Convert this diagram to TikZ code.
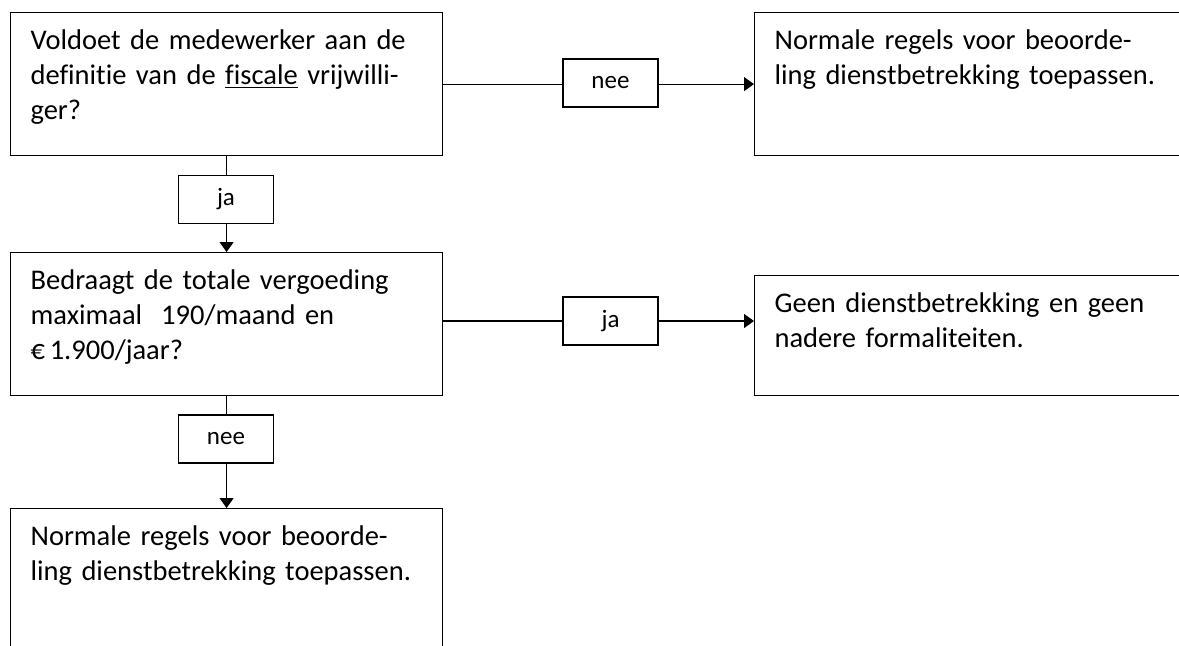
\documentclass[tikz,border=0pt]{standalone}
\usepackage{fontspec}
\setmainfont{Carlito}[Ligatures=NoCommon]
\usetikzlibrary{arrows.meta}

\tikzset{
  stepbox/.style={draw,line width=0.6pt,anchor=north west,align=left,
    text width=196pt,inner xsep=10pt,inner ysep=0pt,
    text height=18.5pt,text depth=53pt,
    font=\fontsize{14.25pt}{17.5pt}\selectfont},
  answer/.style={draw,line width=0.6pt,minimum width=47.5pt,
    minimum height=24pt,inner sep=0pt,
    font=\fontsize{12.5pt}{14pt}\selectfont},
  flow/.style={line width=0.6pt},
  arrowflow/.style={flow,-{Triangle[length=5pt,width=7pt]}}
}

\begin{document}
\begin{tikzpicture}[x=0.5pt,y=-0.5pt]

  \clip (0,0) rectangle (1179,645);

  % questions and outcomes
  \node[stepbox] (q1) at (10,12)
    {Voldoet de medewerker aan de\\definitie van de \underline{fiscale} vrijwilli-\\ger?};
  \node[stepbox] (r1) at (754,12)
    {Normale regels voor beoorde-\\ling dienstbetrekking toepassen.};
  \node[stepbox] (q2) at (10,252)
    {Bedraagt de totale vergoeding\\maximaal\ \ 190/maand en\\€\,1.900/jaar?};
  \node[stepbox,text depth=41.5pt] (r2) at (754,275)
    {Geen dienstbetrekking en geen\\nadere formaliteiten.};
  \node[stepbox] (q3) at (10,508)
    {Normale regels voor beoorde-\\ling dienstbetrekking toepassen.};

  % answers
  \node[answer] (nee1) at (610.5,83) {nee};
  \node[answer] (ja1) at (226,199.5) {ja};
  \node[answer] (ja2) at (610.5,321) {ja};
  \node[answer] (nee2) at (226,439) {nee};

  \draw[flow] (q1.east) -- (q1.east -| nee1.west);
  \draw[arrowflow] (q1.east -| nee1.east) -- (q1.east -| r1.west);
  \draw[flow] (q1.south) -- (q1.south |- ja1.north);
  \draw[arrowflow] (q1.south |- ja1.south) -- (q2.north);

  \draw[flow] (q2.east |- ja2) -- (ja2.west);
  \draw[arrowflow] (ja2.east) -- (ja2 -| r2.west);
  \draw[flow] (q2.south) -- (q2.south |- nee2.north);
  \draw[arrowflow] (q2.south |- nee2.south) -- (q3.north);

\end{tikzpicture}
\end{document}
